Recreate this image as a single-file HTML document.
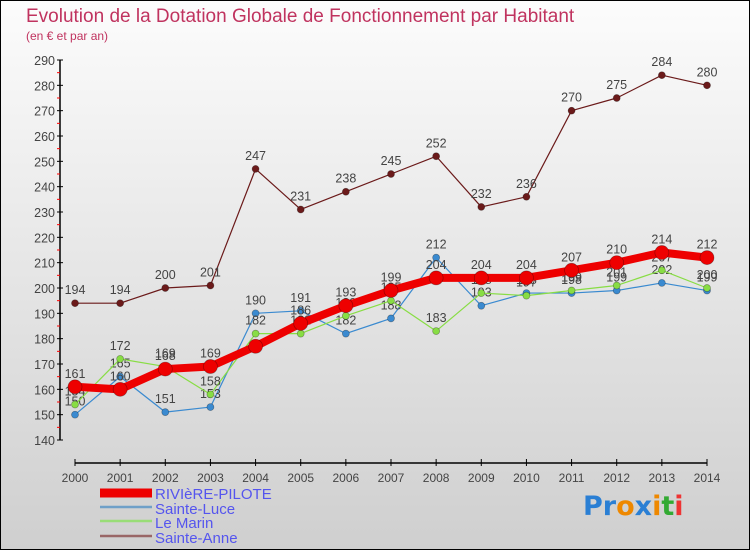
<!DOCTYPE html>
<html><head><meta charset="utf-8"><style>
body{margin:0;}
svg{display:block;font-family:"Liberation Sans",sans-serif;}
</style></head><body>
<svg id="chart" width="750" height="550" viewBox="0 0 750 550" xmlns="http://www.w3.org/2000/svg">
<defs><linearGradient id="bg" x1="0" y1="0" x2="0" y2="1"><stop offset="0" stop-color="#fcfcfc"/><stop offset="1" stop-color="#cfcfcf"/></linearGradient></defs>
<rect x="0.5" y="0.5" width="749" height="549" fill="url(#bg)" stroke="#000" stroke-width="1"/>
<text x="26" y="22" font-size="19" fill="#c0335f">Evolution de la Dotation Globale de Fonctionnement par Habitant</text>
<text x="26" y="40" font-size="12" fill="#c0335f">(en € et par an)</text>
<g id="axes"></g>
<g id="series"></g>
<g>
<line x1="100" y1="493" x2="152" y2="493" stroke="#ee0000" stroke-width="9"/>
<text x="155" y="499" font-size="15" fill="#5555ee">RIVIèRE-PILOTE</text>
<line x1="100" y1="507" x2="152" y2="507" stroke="#6fa0c8" stroke-width="2.5"/>
<text x="155" y="514" font-size="15" fill="#5555ee">Sainte-Luce</text>
<line x1="100" y1="521" x2="152" y2="521" stroke="#99dd77" stroke-width="2.5"/>
<text x="155" y="528" font-size="15" fill="#5555ee">Le Marin</text>
<line x1="100" y1="536" x2="152" y2="536" stroke="#996666" stroke-width="2.5"/>
<text x="155" y="543" font-size="15" fill="#5555ee">Sainte-Anne</text>
</g>
<text x="583" y="515" font-size="27" font-weight="bold" font-family="'DejaVu Sans',sans-serif"><tspan fill="#2a7fd4">Pr</tspan><tspan fill="#ee8800">o</tspan><tspan fill="#2a7fd4">x</tspan><tspan fill="#ee8800">i</tspan><tspan fill="#33aa33">t</tspan><tspan fill="#ee3333">i</tspan></text>
</svg>
<script>
const years = [2000,2001,2002,2003,2004,2005,2006,2007,2008,2009,2010,2011,2012,2013,2014];
const yTicks = [140,150,160,170,180,190,200,210,220,230,240,250,260,270,280,290];
const riviere = [161,160,168,169,177,186,193,199,204,204,204,207,210,214,212];
const luce = [150,165,151,153,190,191,182,188,212,193,198,198,199,202,199];
const marin = [154,172,169,158,182,182,189,195,183,198,197,199,201,207,200];
const anne = [194,194,200,201,247,231,238,245,252,232,236,270,275,284,280];
const riviereLabels = [true,true,true,true,false,true,true,true,true,true,true,true,true,true,true];

const NS="http://www.w3.org/2000/svg";
const X0=75,X1=707,Y0=440,Y1=60,VMIN=140,VMAX=290;
function xs(i){return X0+(X1-X0)*i/(years.length-1);}
function ys(v){return Y0-(v-VMIN)*(Y0-Y1)/(VMAX-VMIN);}
function mk(tag,attrs,parent){const e=document.createElementNS(NS,tag);for(const k in attrs)e.setAttribute(k,attrs[k]);parent.appendChild(e);return e;}
const axes=document.getElementById('axes'),ser=document.getElementById('series');

let yl=mk('line',{x1:60,y1:Y1,x2:60,y2:Y0,stroke:'#000','stroke-width':1.5},axes);


for(let v=VMIN+5;v<VMAX;v+=10){mk('line',{x1:57,y1:ys(v),x2:60,y2:ys(v),stroke:'#ff0000'},axes);}
yTicks.forEach(v=>{
 mk('line',{x1:57,y1:ys(v),x2:63,y2:ys(v),stroke:'#000'},axes);
 const t=mk('text',{x:55,y:ys(v)+5,'font-size':12.5,fill:'#444','text-anchor':'end'},axes);
 t.textContent=v;
 
 
});
let xl=mk('line',{x1:X0,y1:463,x2:X1,y2:463,stroke:'#000','stroke-width':1.5},axes);


years.forEach((y,i)=>{
 mk('line',{x1:xs(i),y1:459,x2:xs(i),y2:466,stroke:'#000'},axes);
 const t=mk('text',{x:xs(i),y:482,'font-size':12,fill:'#444','text-anchor':'middle'},axes);
 t.textContent=y;
 
 
});

function series(data,name,color,w,r,labels){
 const g=mk('g',{},ser);
 
 
 const pts=data.map((v,i)=>xs(i)+','+ys(v)).join(' ');
 mk('polyline',{points:pts,fill:'none',stroke:color,'stroke-width':w,'stroke-linejoin':'round'},g);
 data.forEach((v,i)=>{
  const c=mk('circle',{cx:xs(i),cy:ys(v),r:r,fill:color,stroke:'rgba(0,0,0,0.35)','stroke-width':0.7},g);
  
  
  if(!labels||labels[i]){
   const t=mk('text',{x:xs(i),y:ys(v)-9,'font-size':12.5,fill:'#444','text-anchor':'middle'},g);
   t.textContent=v;
   
   
  }
 });
}
series(anne,'sainte-anne-series','#6b1a1a',1.2,3.5,null);
series(luce,'sainte-luce-series','#3a8ad0',1.2,3.5,null);
series(marin,'le-marin-series','#88dd44',1.2,3.5,null);
series(riviere,'riviere-pilote-series','#ee0000',8,7,riviereLabels);
</script>
</body></html>
